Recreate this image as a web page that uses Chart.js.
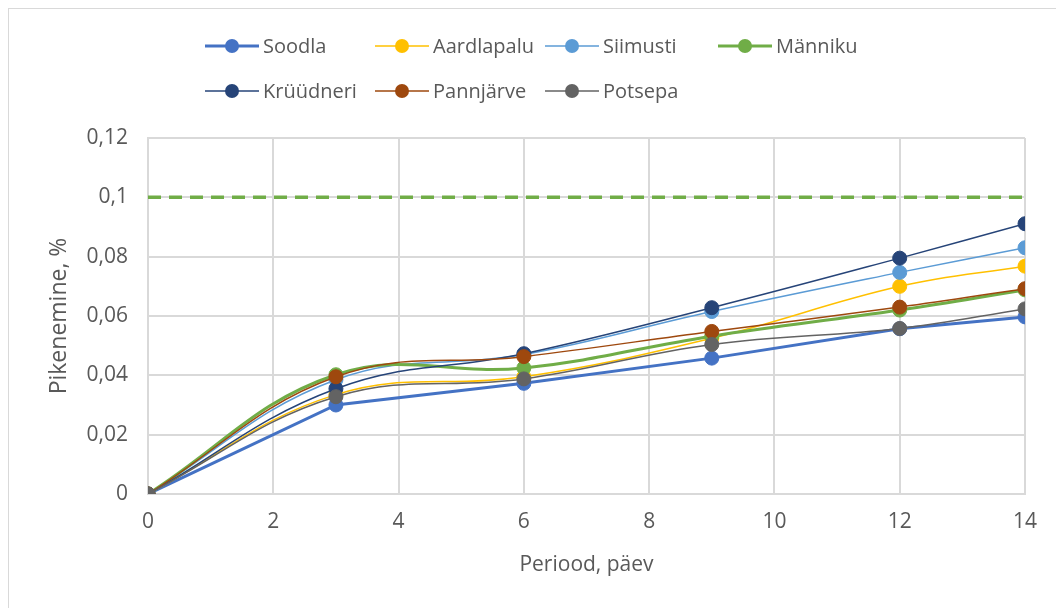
<!DOCTYPE html>
<html>
<head>
<meta charset="utf-8">
<script src="https://cdn.jsdelivr.net/npm/chart.js@4/dist/chart.umd.min.js"></script>
<style>
    html, body { margin: 0; padding: 0; background: #fff; }
    #wrap { position: relative; width: 1056px; height: 608px; overflow: hidden; }
    #frame { position: absolute; left: 8px; top: 8px; width: 1100px; height: 700px;
             border-left: 1px solid #d9d9d9; border-top: 1px solid #d9d9d9; }
    canvas { position: absolute; left: 0; top: 0; }
</style>
</head>
<body>
<div id="wrap">
    <div id="frame"></div>
    <canvas id="lineChart" width="1056" height="608"></canvas>
</div>
<script>
    // Measurement days
    var days = [0, 3, 6, 9, 12, 14];

    // Shrinkage per site, %
    var soodla     = [0, 0.0300, 0.0373, 0.0458, 0.0557, 0.0597];
    var aardlapalu = [0, 0.0335, 0.0395, 0.0525, 0.0700, 0.0768];
    var siimusti   = [0, 0.0385, 0.0470, 0.0615, 0.0747, 0.0830];
    var manniku    = [0, 0.0402, 0.0425, 0.0532, 0.0620, 0.0688];
    var kruudneri  = [0, 0.0355, 0.0473, 0.0628, 0.0795, 0.0911];
    var pannjarve  = [0, 0.0395, 0.0463, 0.0548, 0.0630, 0.0692];
    var potsepa    = [0, 0.0328, 0.0388, 0.0504, 0.0558, 0.0624];

    // Limit line
    var limitX = [0, 14];
    var limitY = [0.1, 0.1];

    var xTicks = [0, 2, 4, 6, 8, 10, 12, 14];
    var yTicks = [0, 0.02, 0.04, 0.06, 0.08, 0.1, 0.12];

    var textColor = '#595959';
    var gridColor = '#d9d9d9';
    var fontFamily = '"Open Sans", "Noto Sans", sans-serif';

    function toPoints(xs, ys) {
        return xs.map((x, i) => ({ x: x, y: ys[i] }));
    }

    var series = [
        { label: 'Soodla',     data: soodla,     color: '#4472C4', width: 3,   tension: 0 },
        { label: 'Aardlapalu', data: aardlapalu, color: '#FFC000', width: 1.5, tension: 0.4 },
        { label: 'Siimusti',   data: siimusti,   color: '#5B9BD5', width: 1.5, tension: 0.4 },
        { label: 'Männiku',    data: manniku,    color: '#70AD47', width: 3,   tension: 0.4 },
        { label: 'Krüüdneri',  data: kruudneri,  color: '#264478', width: 1.5, tension: 0.4 },
        { label: 'Pannjärve',  data: pannjarve,  color: '#9E480E', width: 1.5, tension: 0.4 },
        { label: 'Potsepa',    data: potsepa,    color: '#636363', width: 1.5, tension: 0.4 }
    ];

    var datasets = series.map((s, i) => ({
        label: s.label,
        data: toPoints(days, s.data),
        borderColor: s.color,
        backgroundColor: s.color,
        pointBackgroundColor: s.color,
        pointBorderColor: s.color,
        borderWidth: s.width,
        pointRadius: 7,
        pointBorderWidth: 1,
        tension: s.tension,
        fill: false,
        order: series.length - i   // later series on top
    }));

    datasets.push({
        label: 'limit',
        data: toPoints(limitX, limitY),
        borderColor: '#70AD47',
        borderWidth: 3.5,
        borderDash: [13, 8],
        pointRadius: 0,
        fill: false,
        order: 99
    });

    // Legend laid out in fixed columns, two rows
    var legendCols = [232, 402, 572, 745];
    var legendRows = [46, 91];

    var columnLegend = {
        id: 'columnLegend',
        afterDraw: function (chart) {
            var ctx = chart.ctx;
            ctx.save();
            ctx.font = '20px ' + fontFamily;
            ctx.textBaseline = 'middle';
            ctx.textAlign = 'left';
            series.forEach((s, i) => {
                var cx = legendCols[i % 4];
                var cy = legendRows[Math.floor(i / 4)];
                ctx.strokeStyle = s.color;
                ctx.lineWidth = s.width;
                ctx.beginPath();
                ctx.moveTo(cx - 27, cy);
                ctx.lineTo(cx + 27, cy);
                ctx.stroke();
                ctx.fillStyle = s.color;
                ctx.beginPath();
                ctx.arc(cx, cy, 7, 0, Math.PI * 2);
                ctx.fill();
                ctx.fillStyle = textColor;
                ctx.fillText(s.label, cx + 31, cy + 1);
            });
            ctx.restore();
        }
    };

    var chart = new Chart(document.getElementById('lineChart').getContext('2d'), {
        type: 'line',
        data: { datasets: datasets },
        plugins: [columnLegend],
        options: {
            responsive: false,
            animation: false,
            layout: { padding: { top: 138, right: 31, left: 0, bottom: 0 } },
            plugins: {
                legend: { display: false },
                tooltip: { enabled: false }
            },
            scales: {
                x: {
                    type: 'linear',
                    min: 0,
                    max: 14,
                    afterBuildTicks: function (scale) {
                        scale.ticks = xTicks.map(v => ({ value: v }));
                    },
                    afterFit: function (scale) { scale.height = 114; },
                    grid: { color: gridColor, lineWidth: 2, drawTicks: false },
                    border: { color: gridColor, width: 2 },
                    ticks: {
                        color: textColor,
                        font: { family: fontFamily, size: 21 },
                        padding: 15,
                        maxRotation: 0
                    },
                    title: {
                        display: true,
                        text: 'Periood, päev',
                        color: textColor,
                        font: { family: fontFamily, size: 21 },
                        padding: { top: 0, bottom: 30 }
                    }
                },
                y: {
                    min: 0,
                    max: 0.12,
                    afterBuildTicks: function (scale) {
                        scale.ticks = yTicks.map(v => ({ value: v }));
                    },
                    afterFit: function (scale) { scale.width = 148; },
                    grid: { color: gridColor, lineWidth: 2, drawTicks: false },
                    border: { color: gridColor, width: 2 },
                    ticks: {
                        color: textColor,
                        font: { family: fontFamily, size: 21 },
                        padding: 20,
                        callback: function (value) {
                            return String(Number(value.toFixed(2))).replace('.', ',');
                        }
                    },
                    title: {
                        display: true,
                        text: 'Pikenemine, %',
                        color: textColor,
                        font: { family: fontFamily, size: 23 },
                        padding: { top: 46, bottom: 0 }
                    }
                }
            }
        }
    });
</script>
</body>
</html>
